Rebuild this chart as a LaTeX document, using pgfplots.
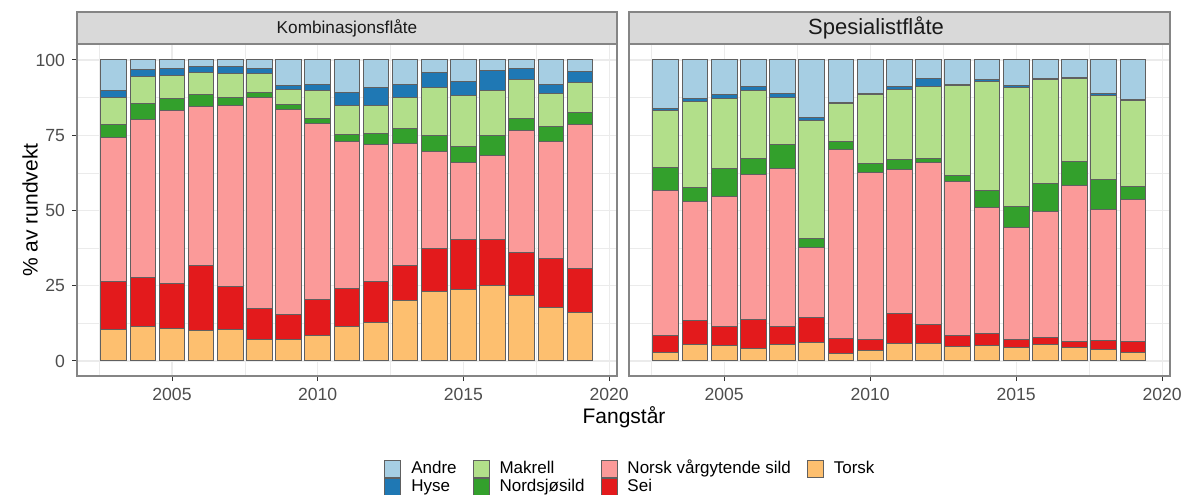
\documentclass[border=0pt]{standalone}
\usepackage{fontspec}
\setmainfont{Liberation Sans}
\usepackage{pgfplots}
\usepackage{pgfplotstable}
\pgfplotsset{compat=1.18}

\definecolor{andre}{HTML}{A6CEE3}
\definecolor{hyse}{HTML}{1F78B4}
\definecolor{makrell}{HTML}{B2DF8A}
\definecolor{nordsjo}{HTML}{33A02C}
\definecolor{nvg}{HTML}{FB9A99}
\definecolor{sei}{HTML}{E31A1C}
\definecolor{torsk}{HTML}{FDBF6F}
\definecolor{gridc}{HTML}{EBEBEB}
\definecolor{borderc}{HTML}{858585}
\definecolor{stripc}{HTML}{D9D9D9}
\definecolor{tickc}{HTML}{333333}
\definecolor{ticklab}{HTML}{4D4D4D}
\definecolor{barline}{HTML}{606060}
\definecolor{striptext}{HTML}{1A1A1A}

% year Torsk Sei NVG Nordsjosild Makrell Hyse Andre
\pgfplotstableread{
year T S N Ns M H A
2003 10.5 15.9 47.9 4.4 8.9 2.4 10.0
2004 11.6 16.2 52.5 5.1 9.1 2.2 3.3
2005 10.7 14.9 57.5 4.2 7.7 2.2 2.8
2006 10.1 21.5 52.9 4.1 7.2 2.0 2.2
2007 10.3 14.4 60.1 2.7 8.1 2.2 2.2
2008 7.2 10.3 70.0 1.8 6.3 1.6 2.8
2009 7.0 8.5 67.9 1.9 5.0 1.1 8.6
2010 8.3 12.2 58.5 1.6 9.1 2.2 8.1
2011 11.4 12.7 48.8 2.2 9.9 4.1 10.9
2012 12.7 13.7 45.4 3.8 9.4 5.8 9.2
2013 20.0 11.6 40.7 5.0 10.3 4.3 8.1
2014 23.0 14.2 32.3 5.3 16.0 5.0 4.2
2015 23.8 16.7 25.4 5.5 16.8 4.6 7.2
2016 25.2 15.3 27.9 6.4 15.0 6.7 3.5
2017 21.7 14.4 40.3 4.2 12.8 3.6 3.0
2018 17.8 16.3 38.8 5.0 11.0 3.0 8.1
2019 16.1 14.7 47.9 3.9 10.0 3.5 3.9
}\kombi

\pgfplotstableread{
year T S N Ns M H A
2003 2.9 5.7 48.0 7.7 18.9 0.7 16.1
2004 5.6 7.8 39.5 4.8 28.5 1.1 12.7
2005 5.1 6.5 43.0 9.4 23.3 1.1 11.6
2006 4.0 9.8 48.3 5.2 22.5 1.3 8.9
2007 5.5 6.1 52.3 8.1 15.6 1.1 11.3
2008 6.2 8.2 23.3 3.1 39.0 1.0 19.2
2009 2.5 5.0 62.9 2.5 12.5 0.5 14.1
2010 3.4 3.8 55.4 3.1 22.7 0.5 11.1
2011 5.9 9.7 48.1 3.3 23.3 0.8 8.9
2012 5.9 6.1 54.0 1.3 23.8 2.6 6.3
2013 4.8 3.5 51.3 1.9 30.0 0.5 8.0
2014 5.0 4.2 41.7 5.6 36.5 0.4 6.6
2015 4.4 2.6 37.4 6.9 39.6 0.5 8.6
2016 5.5 2.4 41.7 9.4 34.4 0.4 6.2
2017 4.4 2.2 51.7 7.9 27.7 0.3 5.8
2018 3.7 3.1 43.4 10.2 27.8 0.5 11.3
2019 2.9 3.5 47.1 4.4 28.5 0.3 13.3
}\spes

\pgfplotsset{
  panel/.style={
    scale only axis, height=166pt,
    ybar stacked, bar width=0.88,
    xmin=2001.74, xmax=2020.27, ymin=-5, ymax=105.3,
    xtick={2005,2010,2015,2020},
    minor xtick={2002.5,2007.5,2012.5,2017.5},
    ytick={0,25,50,75,100},
    minor ytick={12.5,37.5,62.5,87.5},
    grid=both,
    major grid style={draw=gridc, line width=0.6pt},
    minor grid style={draw=gridc, line width=0.3pt},
    axis line style={draw=borderc, line width=0.7pt},
    tick pos=left, tick align=outside,
    major tick length=2.5pt, minor tick length=0pt,
    tick style={draw=tickc, line width=0.5pt},
    ticklabel style={font=\fontsize{8.8}{10}\selectfont, text=ticklab},
    /pgf/number format/assume math mode=true,
    /pgf/number format/1000 sep={},
    every axis plot/.append style={draw=barline, line width=0.5pt},
  },
  boxleg/.style={legend image code/.code={%
    \draw[##1, draw=barline, line width=0.45pt] (0pt,-4.25pt) rectangle (8pt,4.25pt);}},
}

\begin{document}
\begin{tikzpicture}
\path[use as bounding box] (0,0) rectangle (591pt,247pt);

% Left panel
\begin{axis}[panel, at={(38.5pt,59pt)}, anchor=south west, width=270pt,
  ylabel={\% av rundvekt},
  ylabel style={at={(rel axis cs:-0.087,0.5)}, anchor=center, font=\fontsize{10.5}{12}\selectfont, text=black},
  xlabel={Fangstår},
  xlabel style={at={(rel axis cs:1.013,-0.125)}, anchor=center, font=\fontsize{10.5}{12}\selectfont, text=black},
]
\addplot[fill=torsk] table[x=year, y=T] {\kombi};
\addplot[fill=sei] table[x=year, y=S] {\kombi};
\addplot[fill=nvg] table[x=year, y=N] {\kombi};
\addplot[fill=nordsjo] table[x=year, y=Ns] {\kombi};
\addplot[fill=makrell] table[x=year, y=M] {\kombi};
\addplot[fill=hyse] table[x=year, y=H] {\kombi};
\addplot[fill=andre] table[x=year, y=A] {\kombi};
\end{axis}

% Right panel
\begin{axis}[panel, at={(314.5pt,59pt)}, anchor=south west, width=270.5pt,
  yticklabels={}, ytick style={draw=none},
]
\addplot[fill=torsk] table[x=year, y=T] {\spes};
\addplot[fill=sei] table[x=year, y=S] {\spes};
\addplot[fill=nvg] table[x=year, y=N] {\spes};
\addplot[fill=nordsjo] table[x=year, y=Ns] {\spes};
\addplot[fill=makrell] table[x=year, y=M] {\spes};
\addplot[fill=hyse] table[x=year, y=H] {\spes};
\addplot[fill=andre] table[x=year, y=A] {\spes};
\end{axis}

% Strips
\draw[fill=stripc, draw=borderc, line width=0.7pt] (38.5pt,225pt) rectangle (308.5pt,241pt);
\node[font=\fontsize{8.6}{10}\selectfont, text=striptext] at (173.5pt,233pt) {Kombinasjonsflåte};
\draw[fill=stripc, draw=borderc, line width=0.7pt] (314.5pt,225pt) rectangle (585pt,241pt);
\node[font=\fontsize{11}{12}\selectfont, text=striptext] at (438pt,233pt) {Spesialistflåte};

% Legend (shared)
\begin{axis}[hide axis, scale only axis, width=1pt, height=1pt,
  at={(192pt,16pt)}, anchor=south west,
  xmin=0, xmax=1, ymin=0, ymax=1,
  legend columns=4, legend cell align=left,
  legend style={at={(0,1)}, anchor=north west, draw=none, fill=none,
    inner sep=0pt, row sep=0pt,
    font=\fontsize{8.5}{10}\selectfont,
    nodes={inner xsep=0pt, inner ysep=0pt, text height=6.2pt, text depth=2.3pt},
    /tikz/every odd column/.append style={column sep=5pt},
    /tikz/every even column/.append style={column sep=8pt}},
]
\addlegendimage{boxleg, fill=andre}
\addlegendimage{boxleg, fill=makrell}
\addlegendimage{boxleg, fill=nvg}
\addlegendimage{boxleg, fill=torsk}
\addlegendimage{boxleg, fill=hyse}
\addlegendimage{boxleg, fill=nordsjo}
\addlegendimage{boxleg, fill=sei}
\legend{Andre, Makrell, Norsk vårgytende sild, Torsk, Hyse, Nordsjøsild, Sei}
\end{axis}
\end{tikzpicture}
\end{document}
